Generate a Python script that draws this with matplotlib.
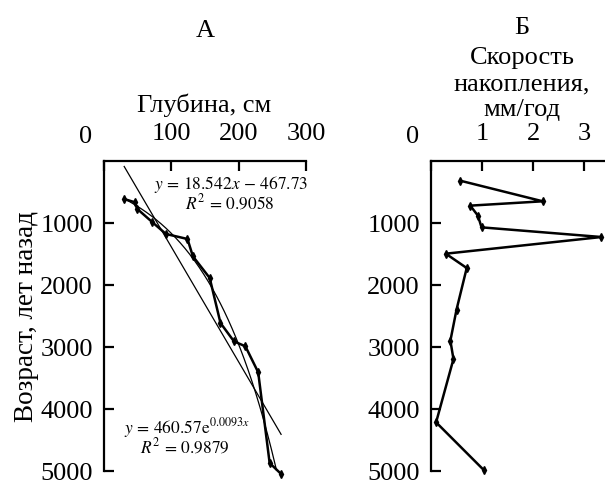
import numpy as np
import matplotlib.pyplot as plt

plt.rcParams['font.family'] = ['Liberation Serif', 'DejaVu Serif']
plt.rcParams['mathtext.fontset'] = 'stix'

# Panel A: depth of dated levels vs calibrated age
depth_cm = [30, 46, 49, 72, 92, 124, 132, 157, 173, 193, 210, 229, 246, 263]
age_a = [613, 666, 769, 989, 1177, 1258, 1537, 1887, 2613, 2909, 2989, 3408, 4871, 5048]

# fitted models shown on panel A
lin_slope, lin_icpt = 18.542, -467.73
exp_a, exp_b = 460.57, 0.0093

# Panel B: accumulation rate vs age
rate_mm = [0.575, 2.19, 0.77, 0.92, 0.99, 3.34, 0.29, 0.70, 0.50, 0.38, 0.44, 0.10, 1.04]
age_b = [318, 650, 720, 882, 1070, 1226, 1495, 1726, 2398, 2898, 3194, 4215, 4989]

age_ticks = [1000, 2000, 3000, 4000, 5000]
depth_ticks = [0, 100, 200, 300]
rate_ticks = [0, 1, 2, 3]

FS = 19

fig = plt.figure(figsize=(6.05, 4.81), dpi=100)
ax_a = fig.add_axes([104 / 605, 9 / 481, 202 / 605, 310 / 481])
ax_b = fig.add_axes([431 / 605, 9 / 481, 174 / 605, 310 / 481])


def style_axis(ax):
    for side in ('right', 'bottom'):
        ax.spines[side].set_visible(False)
    for side in ('left', 'top'):
        ax.spines[side].set_linewidth(1.6)
    ax.xaxis.tick_top()
    ax.tick_params(axis='both', direction='in', length=7, width=1.6,
                   labelsize=FS)
    ax.tick_params(axis='y', pad=8)
    ax.tick_params(axis='x', pad=12)
    ax.set_ylim(5000, 0)
    ax.set_yticks(age_ticks)
    ax.set_yticklabels([str(t) for t in age_ticks])


# --- panel A ---
style_axis(ax_a)
ax_a.set_xlim(0, 300)
ax_a.set_xticks(depth_ticks)
ax_a.set_xticklabels([''] + [str(t) for t in depth_ticks[1:]])

xs = np.linspace(min(depth_cm), max(depth_cm), 200)
ax_a.plot(xs, lin_slope * xs + lin_icpt, color='black', lw=0.9)
ax_a.plot(xs, exp_a * np.exp(exp_b * xs), color='black', lw=0.9)
ax_a.plot(depth_cm, age_a, color='black', lw=1.8, marker='d', ms=4,
          clip_on=False)

ax_a.text(189, 365, r'$y\,=\,18.542x\,-\,467.73$', fontsize=12.5,
          ha='center', va='center')
ax_a.text(187, 670, r'$R^2\,=\,0.9058$', fontsize=12.5,
          ha='center', va='center')
ax_a.text(123, 4285, r'$y\,=\,460.57\mathrm{e}^{0.0093x}$', fontsize=12.5,
          ha='center', va='center')
ax_a.text(120, 4605, r'$R^2\,=\,0.9879$', fontsize=12.5,
          ha='center', va='center')

# --- panel B ---
style_axis(ax_b)
ax_b.set_xlim(0, 3.41)
ax_b.set_xticks(rate_ticks)
ax_b.set_xticklabels([''] + [str(t) for t in rate_ticks[1:]])
ax_b.plot(rate_mm, age_b, color='black', lw=1.8, marker='d', ms=4,
          clip_on=False)

# zero labels sit a little left of the corner
for ax in (ax_a, ax_b):
    ax.annotate('0', xy=(0, 1), xycoords='axes fraction',
                xytext=(-13, 18), textcoords='offset points',
                ha='center', va='center', fontsize=FS)

ax_a.set_ylabel('Возраст, лет назад', fontsize=FS + 0.5, labelpad=1)

fig.text(205 / 605, 1 - 31 / 481, 'А', fontsize=FS, ha='center', va='center')
fig.text(204 / 605, 1 - 105 / 481, 'Глубина, см', fontsize=FS,
         ha='center', va='center')
fig.text(522 / 605, 1 - 28 / 481, 'Б', fontsize=FS, ha='center', va='center')
fig.text(522 / 605, 1 - 84 / 481, 'Скорость\nнакопления,\nмм/год',
         fontsize=FS, ha='center', va='center', linespacing=1.25)

fig.savefig('out.png', dpi=100)
